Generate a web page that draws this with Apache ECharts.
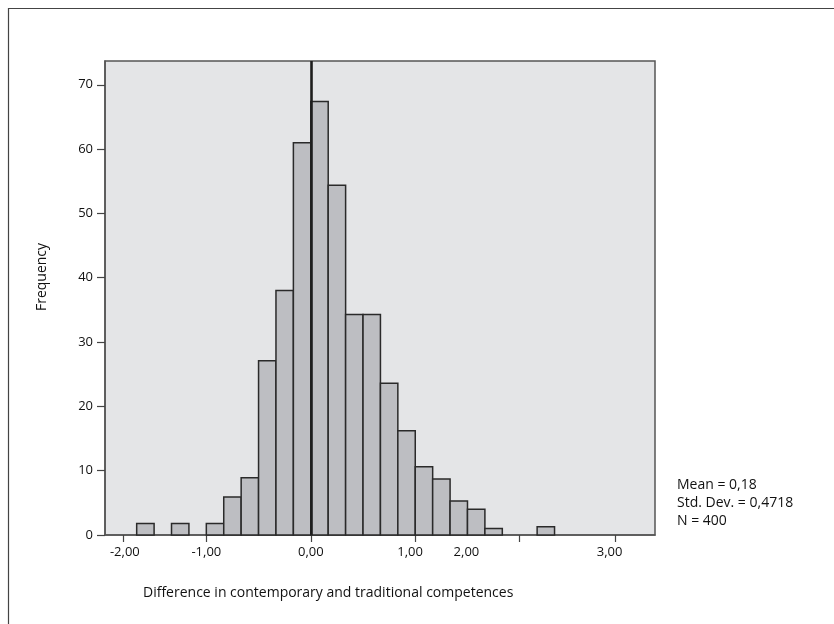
<!DOCTYPE html>
<html>
<head>
<meta charset="utf-8">
<script src="https://cdn.jsdelivr.net/npm/echarts@6/dist/echarts.min.js"></script>
<style>
html,body{margin:0;padding:0;background:#fff;}
#chart{width:834px;height:624px;}
</style>
</head>
<body>
<div id="chart"></div>
<script>
// Histogram bins (lower edges, width 1/6) and frequencies
const binWidth = 1 / 6;
const binStarts = [-10/6, -8/6, -6/6, -5/6, -4/6, -3/6, -2/6, -1/6, 0, 1/6, 2/6, 3/6, 4/6, 5/6, 6/6, 7/6, 8/6, 9/6, 10/6, 13/6];
const frequencies = [1.8, 1.8, 1.8, 5.9, 8.9, 27.1, 38, 61, 67.4, 54.4, 34.3, 34.3, 23.6, 16.2, 10.6, 8.7, 5.3, 4.0, 1.0, 1.3];

// X axis tick marks and labels (SPSS-style irregular placement)
const xTickValues = [-1.80, -1.00, 0, 1.00, 2.00, 2.91];
const xLabelValues = [-1.78, -1.00, 0, 0.95, 1.49, 2.86];
const xLabelTexts = ['-2,00', '-1,00', '0,00', '1,00', '2,00', '3,00'];
const yTickValues = [0, 10, 20, 30, 40, 50, 60, 70];
const referenceX = [0];

const statsLines = ['Mean = 0,18', 'Std. Dev. = 0,4718', 'N = 400'];
const xTitle = 'Difference in contemporary and traditional competences';
const yTitle = 'Frequency';

const FONT = '"Open Sans", "Noto Sans", sans-serif';
const chart = echarts.init(document.getElementById('chart'), null, {renderer: 'canvas'});

const barData = binStarts.map((s, i) => [s, s + binWidth, frequencies[i]]);

chart.setOption({
  animation: false,
  backgroundColor: '#ffffff',
  grid: {
    left: 105, top: 61, right: 179, bottom: 89,
    show: true, backgroundColor: '#e4e5e7', borderColor: '#555555', borderWidth: 1.5
  },
  xAxis: {
    type: 'value', min: -1.97, max: 3.295,
    axisLine: {show: true, onZero: false, lineStyle: {color: '#555555', width: 1.5}},
    axisTick: {show: true, length: 7, customValues: xTickValues, lineStyle: {color: '#444444', width: 1.2}},
    axisLabel: {
      customValues: xLabelValues, margin: 11, color: '#111', fontSize: 13, fontFamily: FONT,
      formatter: function (v) {
        let best = 0;
        for (let i = 0; i < xLabelValues.length; i++) {
          if (Math.abs(xLabelValues[i] - v) < Math.abs(xLabelValues[best] - v)) best = i;
        }
        return xLabelTexts[best];
      }
    },
    splitLine: {show: false}
  },
  yAxis: {
    type: 'value', min: 0, max: 73.7,
    axisLine: {show: true, onZero: false, lineStyle: {color: '#555555', width: 1.5}},
    axisTick: {show: true, length: 8, customValues: yTickValues, lineStyle: {color: '#444444', width: 1.2}},
    axisLabel: {customValues: yTickValues, margin: 12, color: '#111', fontSize: 13, fontFamily: FONT},
    splitLine: {show: false}
  },
  series: [
    {
      type: 'custom',
      data: barData,
      encode: {x: [0, 1], y: 2},
      renderItem: function (params, api) {
        const p0 = api.coord([api.value(0), api.value(2)]);
        const p1 = api.coord([api.value(1), 0]);
        return {
          type: 'rect',
          shape: {x: p0[0], y: p0[1], width: p1[0] - p0[0], height: p1[1] - p0[1]},
          style: {fill: '#bdbec2', stroke: '#2a2a2a', lineWidth: 1.5}
        };
      },
      z: 2
    },
    {
      type: 'line',
      data: [],
      z: 5,
      markLine: {
        silent: true, symbol: 'none', label: {show: false},
        lineStyle: {color: '#1e1e1e', width: 2.6, type: 'solid'},
        data: referenceX.map(v => ({xAxis: v}))
      }
    }
  ],
  graphic: [
    {type: 'rect', shape: {x: 8.5, y: 8.5, width: 1000, height: 1000},
     style: {fill: 'none', stroke: '#444444', lineWidth: 1.2}, silent: true},
    {type: 'text', x: 42, y: 277, rotation: Math.PI / 2,
     style: {text: yTitle, fill: '#111', font: '14px ' + FONT, align: 'center', verticalAlign: 'middle'}},
    {type: 'text', x: 143, y: 593,
     style: {text: xTitle, fill: '#111', font: '14px ' + FONT, align: 'left', verticalAlign: 'middle'}},
    {type: 'text', x: 677, y: 476,
     style: {text: statsLines.join('\n'), fill: '#111', font: '14px ' + FONT, lineHeight: 18, align: 'left', verticalAlign: 'top'}}
  ]
});
</script>
</body>
</html>
